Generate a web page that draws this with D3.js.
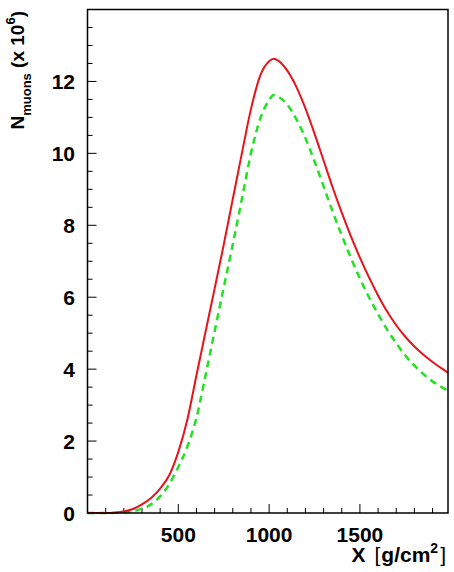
<!DOCTYPE html>
<html>
<head>
<meta charset="utf-8">
<script src="https://cdn.jsdelivr.net/npm/d3@7"></script>
<style>
  body { margin: 0; background: white; }
  text { font-family: "Liberation Sans", Arial, Helvetica, sans-serif; font-weight: bold; }
</style>
</head>
<body>
<div id="chart"></div>
<script>
var width = 454;
var height = 572;

// depth in g/cm2
var depth = [0, 100, 150, 200, 250, 300, 350, 400, 450, 500, 550, 600, 650, 700, 750,
             800, 850, 900, 950, 1000, 1025, 1050, 1100, 1150, 1200, 1250, 1300, 1350,
             1400, 1450, 1500, 1550, 1600, 1650, 1700, 1750, 1800, 1850, 1900, 1950, 1985];

// number of muons (x 10^6), solid red
var muonsRed = [0, 0, 0.01, 0.04, 0.11, 0.24, 0.42, 0.68, 1.05, 1.7, 2.6, 3.83, 5.04, 6.24, 7.46,
                8.73, 10.0, 11.23, 12.15, 12.56, 12.63, 12.58, 12.3, 11.85, 11.25, 10.55, 9.8, 9.05,
                8.35, 7.7, 7.1, 6.55, 6.05, 5.6, 5.22, 4.9, 4.63, 4.4, 4.2, 4.02, 3.9];

// number of muons (x 10^6), dashed green
var muonsGreen = [0, 0, 0.005, 0.015, 0.05, 0.12, 0.24, 0.46, 0.8, 1.28, 1.85, 2.65, 3.83, 5.05, 6.27,
                  7.47, 8.73, 10.0, 10.95, 11.48, 11.62, 11.58, 11.35, 10.95, 10.42, 9.78, 9.08, 8.38,
                  7.72, 7.1, 6.52, 6.0, 5.53, 5.1, 4.72, 4.38, 4.1, 3.86, 3.66, 3.5, 3.4];

var xTicks = [500, 1000, 1500];
var yTicks = [0, 2, 4, 6, 8, 10, 12];

// frame edges (don't call it "top", that's window.top)
var frameL = 87.5, frameR = 448, frameT = 9.5, frameB = 513;

var x = d3.scaleLinear().domain([0, 1985]).range([frameL, frameR]);
var y = d3.scaleLinear().domain([0, 14]).range([frameB, frameT]);

var svg = d3.select("#chart")
            .append("svg")
            .attr("width", width)
            .attr("height", height);

// minor + major ticks, drawn inside the frame
var xMinor = d3.range(100, 1985, 100);
var yMinor = d3.range(0.5, 14, 0.5);

svg.append("g")
    .selectAll("line")
    .data(xMinor)
    .join("line")
    .attr("x1", d => x(d))
    .attr("x2", d => x(d))
    .attr("y1", frameB)
    .attr("y2", d => frameB - (d % 500 === 0 ? 9 : 5))
    .attr("stroke", "black")
    .attr("stroke-width", 1);

svg.append("g")
    .selectAll("line")
    .data(yMinor)
    .join("line")
    .attr("x1", frameL)
    .attr("x2", d => frameL + (d % 2 === 0 ? 9 : 5))
    .attr("y1", d => y(d))
    .attr("y2", d => y(d))
    .attr("stroke", "black")
    .attr("stroke-width", 1);

// tick labels
svg.append("g")
    .selectAll("text")
    .data(xTicks)
    .join("text")
    .attr("x", d => x(d))
    .attr("y", 542)
    .attr("text-anchor", "middle")
    .attr("font-size", 21)
    .text(d => d);

svg.append("g")
    .selectAll("text")
    .data(yTicks)
    .join("text")
    .attr("x", 75)
    .attr("y", d => y(d))
    .attr("dy", "0.36em")
    .attr("text-anchor", "end")
    .attr("font-size", 21)
    .text(d => d);

// curves
var line = d3.line()
                .x((d, i) => x(depth[i]))
                .y(d => y(d))
                .curve(d3.curveMonotoneX);

svg.append("path")
    .attr("d", line(muonsGreen))
    .attr("fill", "none")
    .attr("stroke", "#22e022")
    .attr("stroke-width", 2.5)
    .attr("stroke-dasharray", "7,5");

svg.append("path")
    .attr("d", line(muonsRed))
    .attr("fill", "none")
    .attr("stroke", "#e8131b")
    .attr("stroke-width", 2);

// frame
svg.append("rect")
    .attr("x", frameL)
    .attr("y", frameT)
    .attr("width", frameR - frameL)
    .attr("height", frameB - frameT)
    .attr("fill", "none")
    .attr("stroke", "black")
    .attr("stroke-width", 1.5);

// axis titles
var xTitle = svg.append("text")
                .attr("x", 446)
                .attr("y", 562)
                .attr("text-anchor", "end")
                .attr("font-size", 21);
xTitle.append("tspan").text("X");
xTitle.append("tspan").attr("font-weight", "normal").attr("dx", 9).text("[");
xTitle.append("tspan").attr("dx", 1).text("g/cm");
xTitle.append("tspan").attr("font-size", 14).attr("dy", -9).text("2");
xTitle.append("tspan").attr("font-weight", "normal").attr("dx", 2).attr("dy", 9).text("]");

var yTitle = svg.append("text")
                .attr("transform", "translate(24,11) rotate(-90)")
                .attr("text-anchor", "end")
                .attr("font-size", 19);
yTitle.append("tspan").text("N");
yTitle.append("tspan").attr("font-size", 13).attr("dy", 7).text("muons");
yTitle.append("tspan").attr("dy", -7).text(" (x 10");
yTitle.append("tspan").attr("font-size", 13).attr("dy", -9).text("6");
yTitle.append("tspan").attr("dy", 9).text(")");
</script>
</body>
</html>
